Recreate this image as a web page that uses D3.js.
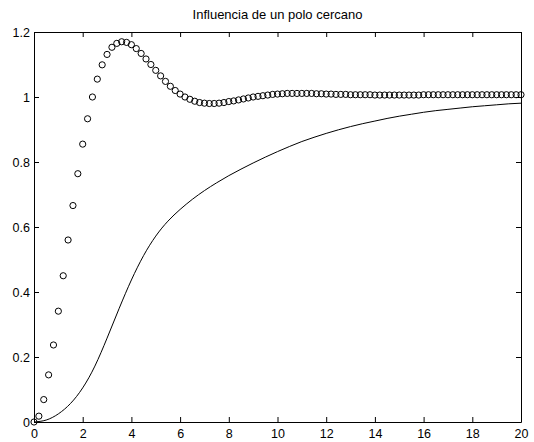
<!DOCTYPE html>
<html>
<head>
<meta charset="utf-8">
<script src="https://cdn.jsdelivr.net/npm/d3@7"></script>
<style>
  html, body { margin: 0; padding: 0; background: #fff; }
  svg { display: block; }
  text { font-family: "Liberation Sans", Arial, Helvetica, sans-serif; fill: #000; }
</style>
</head>
<body>
<svg id="chart" width="534" height="442"></svg>
<script>
// Step response of the second-order system (sampled every 0.2 s)
const timeSamples = [
  0.0, 0.2, 0.4, 0.6, 0.8, 1.0, 1.2, 1.4, 1.6, 1.8,
  2.0, 2.2, 2.4, 2.6, 2.8, 3.0, 3.2, 3.4, 3.6, 3.8,
  4.0, 4.2, 4.4, 4.6, 4.8, 5.0, 5.2, 5.4, 5.6, 5.8,
  6.0, 6.2, 6.4, 6.6, 6.8, 7.0, 7.2, 7.4, 7.6, 7.8,
  8.0, 8.2, 8.4, 8.6, 8.8, 9.0, 9.2, 9.4, 9.6, 9.8,
  10.0, 10.2, 10.4, 10.6, 10.8, 11.0, 11.2, 11.4, 11.6, 11.8,
  12.0, 12.2, 12.4, 12.6, 12.8, 13.0, 13.2, 13.4, 13.6, 13.8,
  14.0, 14.2, 14.4, 14.6, 14.8, 15.0, 15.2, 15.4, 15.6, 15.8,
  16.0, 16.2, 16.4, 16.6, 16.8, 17.0, 17.2, 17.4, 17.6, 17.8,
  18.0, 18.2, 18.4, 18.6, 18.8, 19.0, 19.2, 19.4, 19.6, 19.8,
  20.0
];
const secondOrder = [
  0.000, 0.018, 0.069, 0.145, 0.237, 0.341, 0.450, 0.560, 0.666, 0.764,
  0.855, 0.933, 1.000, 1.055, 1.099, 1.131, 1.153, 1.165, 1.170, 1.168,
  1.161, 1.149, 1.134, 1.117, 1.100, 1.082, 1.065, 1.048, 1.033, 1.020,
  1.009, 1.000, 0.993, 0.987, 0.983, 0.981, 0.980, 0.980, 0.981, 0.983,
  0.986, 0.988, 0.991, 0.994, 0.997, 1.000, 1.002, 1.004, 1.006, 1.008,
  1.009, 1.010, 1.011, 1.011, 1.011, 1.011, 1.011, 1.011, 1.010, 1.010,
  1.009, 1.009, 1.008, 1.008, 1.008, 1.007, 1.007, 1.007, 1.007, 1.007,
  1.006, 1.006, 1.006, 1.006, 1.006, 1.006, 1.006, 1.006, 1.006, 1.006,
  1.007, 1.007, 1.007, 1.007, 1.007, 1.007, 1.007, 1.007, 1.007, 1.007,
  1.007, 1.007, 1.007, 1.007, 1.007, 1.007, 1.007, 1.007, 1.007, 1.007,
  1.007
];

// Step response with the added pole close to the origin
const lineTime = [
  0, 0.5, 1, 1.5, 2, 2.5, 3, 3.5, 4, 4.5,
  5, 5.5, 6, 6.5, 7, 7.5, 8, 8.5, 9, 9.5,
  10, 10.5, 11, 11.5, 12, 12.5, 13, 13.5, 14, 14.5,
  15, 15.5, 16, 16.5, 17, 17.5, 18, 18.5, 19, 19.5, 20
];
const nearPole = [
  0.000, 0.006, 0.025, 0.057, 0.105, 0.172, 0.258, 0.350, 0.437, 0.512,
  0.572, 0.618, 0.654, 0.685, 0.712, 0.736, 0.758, 0.778, 0.797, 0.815,
  0.832, 0.848, 0.863, 0.876, 0.888, 0.899, 0.909, 0.918, 0.926, 0.934,
  0.941, 0.947, 0.953, 0.958, 0.962, 0.966, 0.970, 0.973, 0.976, 0.979,
  0.981
];

// Axis ticks and their labels
const xTicks = [0, 2, 4, 6, 8, 10, 12, 14, 16, 18, 20];
const xTickLabels = ["0", "2", "4", "6", "8", "10", "12", "14", "16", "18", "20"];
const yTicks = [0, 0.2, 0.4, 0.6, 0.8, 1, 1.2];
const yTickLabels = ["0", "0.2", "0.4", "0.6", "0.8", "1", "1.2"];

const titleText = "Influencia de un polo cercano";

const svg = d3.select("#chart");
const W = 534, H = 442;
const margin = { left: 34, right: 13, top: 32, bottom: 20 };

const x = d3.scaleLinear().domain([0, 20]).range([margin.left, W - margin.right]);
const y = d3.scaleLinear().domain([0, 1.2]).range([H - margin.bottom, margin.top]);

const fontSize = "12.5px";
const tickLen = 5;

// Frame and inward ticks on all four sides
const axisB = svg.append("g")
  .attr("transform", `translate(0,${y(0)})`)
  .call(d3.axisBottom(x).tickValues(xTicks)
    .tickFormat((d, i) => xTickLabels[i])
    .tickSizeInner(-tickLen).tickSizeOuter(0).tickPadding(7));
const axisT = svg.append("g")
  .attr("transform", `translate(0,${y(1.2)})`)
  .call(d3.axisTop(x).tickValues(xTicks).tickFormat("")
    .tickSizeInner(-tickLen).tickSizeOuter(0));
const axisL = svg.append("g")
  .attr("transform", `translate(${x(0)},0)`)
  .call(d3.axisLeft(y).tickValues(yTicks)
    .tickFormat((d, i) => yTickLabels[i])
    .tickSizeInner(-tickLen).tickSizeOuter(0).tickPadding(4));
const axisR = svg.append("g")
  .attr("transform", `translate(${x(20)},0)`)
  .call(d3.axisRight(y).tickValues(yTicks).tickFormat("")
    .tickSizeInner(-tickLen).tickSizeOuter(0));

[axisB, axisT, axisL, axisR].forEach(g => {
  g.selectAll(".domain").attr("stroke", "#000").attr("stroke-width", 1);
  g.selectAll(".tick line").attr("stroke", "#000").attr("stroke-width", 1);
  g.selectAll("text")
    .attr("font-family", "'Liberation Sans', Arial, Helvetica, sans-serif")
    .attr("font-size", fontSize).attr("fill", "#000");
});

// Title
svg.append("text")
  .attr("x", (x(0) + x(20)) / 2)
  .attr("y", 18.5)
  .attr("text-anchor", "middle")
  .attr("font-size", "13px")
  .text(titleText);

// Solid curve
const lineData = lineTime.map((t, i) => [t, nearPole[i]]);
svg.append("path")
  .datum(lineData)
  .attr("fill", "none")
  .attr("stroke", "#000")
  .attr("stroke-width", 1)
  .attr("d", d3.line().x(d => x(d[0])).y(d => y(d[1])).curve(d3.curveNatural));

// Circle markers
svg.append("g")
  .selectAll("circle")
  .data(timeSamples.map((t, i) => [t, secondOrder[i]]))
  .join("circle")
  .attr("cx", d => x(d[0]))
  .attr("cy", d => y(d[1]))
  .attr("r", 3.1)
  .attr("fill", "none")
  .attr("stroke", "#000")
  .attr("stroke-width", 1);
</script>
</body>
</html>
